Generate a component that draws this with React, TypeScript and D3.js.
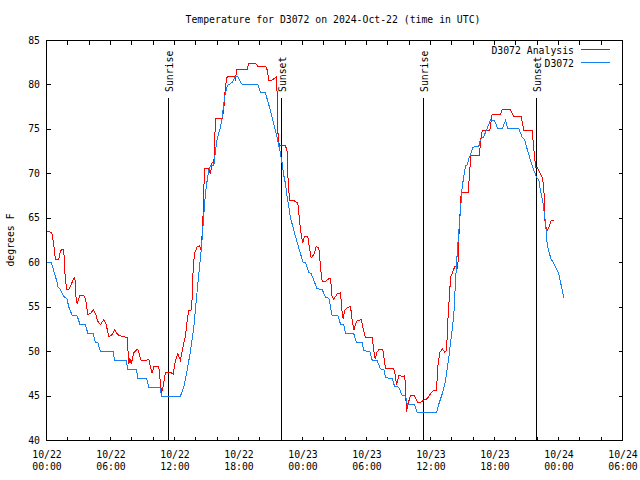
import React from "react";
import * as d3 from "d3";

const TITLE = "Temperature for D3072 on 2024-Oct-22 (time in UTC)";
const Y_LABEL = "degrees F";
const SERIES_NAMES = ["D3072 Analysis", "D3072"];
const SERIES_COLORS = ["#ff0000", "#1580f0"];

// hours since 10/22 00:00 UTC
const xTickDates = ["10/22", "10/22", "10/22", "10/22", "10/23", "10/23", "10/23", "10/23", "10/24", "10/24"];
const xTickTimes = ["00:00", "06:00", "12:00", "18:00", "00:00", "06:00", "12:00", "18:00", "00:00", "06:00"];
const xTickHours = [0, 6, 12, 18, 24, 30, 36, 42, 48, 54];
const yTicks = [40, 45, 50, 55, 60, 65, 70, 75, 80, 85];

const sunHours = [11.47, 22.05, 35.35, 45.95];
const sunLabels = ["Sunrise", "Sunset", "Sunrise", "Sunset"];

const analysisHours = [
  0, 0.5, 0.69, 0.84, 1.16, 1.31, 1.62, 1.69, 1.88, 2.09, 2.56, 2.66, 2.78, 2.88, 3.13, 3.5, 3.66, 3.88, 4.13, 4.38,
  4.59, 4.81, 5.06, 5.37, 5.59, 5.84, 6.09, 6.38, 6.69, 7.09, 7.56, 7.72, 7.81, 7.94, 8.19, 8.56, 8.87, 9.19, 9.6, 9.75,
  9.9, 10.06, 10.53, 10.69, 10.78, 10.94, 11.16, 11.56, 11.88, 12.09, 12.31, 12.56, 12.72, 13.03, 13.19, 13.34, 13.56,
  13.66, 13.75, 13.87, 14.13, 14.37, 14.44, 14.53, 14.6, 14.69, 14.75, 14.84, 15.22, 15.37, 15.53, 15.69, 15.75, 15.84,
  16.47, 16.62, 16.78, 16.94, 17.56, 17.72, 17.81, 18.81, 18.97, 19.59, 19.81, 20.53, 20.69, 20.84, 21.06, 21.56, 21.62,
  21.72, 21.87, 22.4, 22.56, 22.63, 22.78, 23.19, 23.44, 23.56, 23.66, 23.81, 23.97, 24.03, 24.19, 24.5, 24.69, 24.81,
  25.06, 25.28, 25.53, 25.69, 25.84, 26.16, 26.47, 26.63, 26.78, 26.94, 27.25, 27.56, 27.72, 27.81, 27.94, 28.19, 28.5,
  28.66, 28.81, 28.97, 29.13, 29.5, 29.69, 29.91, 30.53, 30.69, 30.81, 31.0, 31.16, 31.53, 31.63, 31.78, 32.56, 32.72,
  32.81, 33.03, 33.44, 33.59, 33.66, 33.75, 33.88, 34.13, 34.44, 34.6, 34.81, 35.06, 35.31, 35.69, 36.0, 36.25, 36.56,
  36.69, 36.88, 37.1, 37.35, 37.5, 37.56, 37.66, 37.81, 37.88, 38.03, 38.19, 38.28, 38.44, 38.56, 38.66, 38.75, 38.81,
  38.88, 39.53, 39.69, 39.75, 40.6, 40.69, 40.85, 41.56, 41.78, 42.56, 42.72, 43.5, 43.81, 44.5, 44.75, 45.53, 45.69,
  45.85, 46.0, 46.25, 46.47, 46.63, 46.69, 46.88, 47.1, 47.31, 47.56,
];
const analysisTemps = [
  63.6, 63.4, 61.9, 60.4, 60.4, 61.4, 61.5, 59.3, 57.0, 57.0, 58.2, 58.3, 55.9, 55.4, 56.3, 56.3, 55.9, 54.2, 54.3, 54.7,
  54.3, 53.4, 53.05, 53.6, 53.05, 51.7, 51.8, 52.45, 51.9, 51.7, 51.6, 48.6, 49.3, 48.6, 49.9, 50.3, 49.0, 49.0, 49.1, 48.25,
  47.6, 48.3, 48.3, 46.4, 45.4, 46.1, 47.7, 47.7, 47.5, 49.0, 49.75, 49.0, 50.1, 51.8, 53.5, 54.6, 54.7,
  56.1, 59.3, 61.0, 61.8, 61.9, 61.4, 62.0, 63.4, 65.7, 68.5, 70.55, 70.55, 70.0, 71.3, 71.3, 73.0, 76.2,
  76.2, 77.3, 79.9, 80.95, 81.0, 80.5, 81.7, 81.7, 82.45, 82.45, 82.1, 82.1, 81.7, 80.5, 80.5, 80.9, 79.0,
  73.75, 73.2, 73.2, 72.5, 69.8, 67.0, 67.0, 66.8, 66.8, 65.5, 63.8, 62.5, 62.3, 62.95, 62.95, 61.4, 60.55,
  60.9, 61.8, 61.7, 59.5, 57.9, 57.9, 58.2, 58.2, 56.1, 55.9, 56.5, 56.6, 54.4, 53.7, 54.6, 54.9, 55.1,
  53.5, 52.4, 53.1, 53.45, 53.6, 52.6, 51.55, 51.55, 50.1, 49.2, 50.0, 50.2, 50.2, 49.4, 48.06, 48.06, 47.3,
  46.2, 47.3, 47.2, 47.3, 45.7, 43.2, 44.1, 45.06, 45.1, 44.8, 44.3, 44.3, 44.5, 44.7, 45.25, 45.6, 45.6,
  48.4, 49.9, 50.3, 49.9, 50.2, 51.6, 54.25, 56.9, 58.4, 58.8, 59.3, 59.6, 59.6, 59.3, 62.9, 65.1, 66.6,
  67.9, 67.9, 70.4, 72.1, 72.1, 73.75, 74.9, 74.9, 76.7, 76.7, 77.2, 77.2, 76.45, 76.45, 74.9, 74.9, 72.8,
  70.75, 70.7, 70.1, 69.6, 68.5, 65.1, 63.55, 64.0, 64.75, 64.7,
];

const obsHours = [
  0, 0.45, 0.7, 0.95, 1.1, 1.3, 1.6, 1.9, 2.1, 2.4, 2.88, 3.13, 3.66, 3.88, 4.38, 4.59, 4.81, 5.06, 6.25, 6.38, 7.5, 7.6,
  8.44, 8.56, 9.38, 9.6, 10.63, 10.78, 12.56, 12.87, 13.19, 13.5, 13.81, 14.13, 14.44, 14.6, 14.75, 14.9, 15.06, 15.22,
  15.37, 15.69, 15.84, 16.0, 16.31, 16.47, 16.69, 16.94, 17.41, 17.72, 17.94, 18.19, 18.34, 19.81, 20.06, 20.53, 20.69,
  21.0, 21.31, 21.62, 21.94, 22.09, 22.25, 22.4, 22.56, 22.72, 22.87, 23.19, 23.5, 23.81, 24.06, 24.28, 24.59, 24.81,
  25.06, 25.37, 25.84, 26.16, 26.47, 26.78, 27.34, 27.56, 27.88, 28.03, 28.81, 29.06, 29.59, 29.75, 30.31, 30.53, 31.0,
  31.31, 31.63, 31.78, 32.41, 32.63, 33.03, 33.34, 33.66, 33.81, 34.5, 34.78, 36.56, 36.78, 37.1, 37.41, 37.72, 38.03,
  38.19, 38.35, 38.5, 38.66, 38.81, 38.97, 39.13, 39.28, 39.44, 39.6, 39.75, 40.0, 40.53, 40.69, 40.94, 41.25, 41.47,
  41.63, 42.0, 42.31, 42.72, 43.03, 43.25, 44.28, 44.6, 44.81, 45.06, 45.38, 45.69, 45.94, 46.16, 46.31, 46.56, 46.78,
  46.94, 47.1, 47.31, 47.56, 47.88, 48.03, 48.19, 48.35, 48.5,
];
const obsTemps = [
  60, 60, 59, 58, 57.2, 57, 56.2, 56, 55, 54.1, 54, 53.1, 53, 52, 52, 51, 51, 50, 50, 49, 49, 48,
  48, 47, 47, 46, 46, 45, 45, 46.0, 47.9, 50.1, 52.75, 56.9, 60.6, 62.9, 65.5, 67.75, 69.25, 70.4,
  70.9, 71.0, 72.6, 73.9, 75.25, 76.4, 78.6, 79.9, 80.3, 80.95, 80.95, 80.3, 80.1, 80.1, 79.2, 79.1, 78.4,
  77.1, 75.6, 74.1, 72.25, 71.2, 69.8, 68.9, 67.4, 66.25, 65.1, 63.6, 62.3, 61.0, 60.06, 60.0, 58.9, 58.8,
  58.0, 57.06, 57.0, 56.1, 56.0, 54.06, 54.0, 53.1, 53.0, 52.0, 52.0, 51.06, 51.0, 50.1, 50.0, 49.06, 49.0,
  48.06, 48.0, 47.05, 47.0, 46.1, 46.0, 45.06, 45.0, 44.1, 44.0, 43.1, 43.1, 44.1, 45.25, 46.75, 49.4, 52.4,
  54.25, 58.0, 61.0, 63.6, 65.9, 68.5, 69.8, 70.9, 71.0, 71.7, 72.2, 73.0, 73.1, 73.9, 74.1, 74.9, 75.6,
  76.06, 76.0, 75.06, 75.06, 76.0, 75.06, 75.06, 74.1, 73.9, 72.8, 71.5, 70.4, 69.6, 69.3, 68.1, 66.6, 64.55,
  62.1, 61.2, 60.4, 59.9, 59.1, 58.75, 57.8, 56.9, 56.05,
];

const W = 640;
const H = 480;
const FONT = "'DejaVu Sans Mono', monospace";
const FS = 9.8;

export default function App() {
  const x = d3.scaleLinear().domain([0, 54]).range([46, 622]);
  const y = d3.scaleLinear().domain([40, 85]).range([440, 40]);
  const minorTicks = d3.range(0, 55, 2);

  const line = d3
    .line<[number, number]>()
    .x((d) => x(d[0]) + 0.5)
    .y((d) => y(d[1]) + 0.5);

  const analysis = analysisHours.map((h, i) => [h, analysisTemps[i]] as [number, number]);
  const obs = obsHours.map((h, i) => [h, obsTemps[i]] as [number, number]);

  const px = (v: number) => Math.round(v) + 0.5;
  const left = px(x(0));
  const right = px(x(54));
  const top = px(y(85));
  const bottom = px(y(40));

  return (
    <svg
      width={W}
      height={H}
      style={{ position: "absolute", left: 0, top: 0, background: "#fff" }}
      fontFamily={FONT}
      fontSize={FS}
    >
      <rect x={0} y={0} width={W} height={H} fill="#fff" />
      <g stroke="#000" strokeWidth={1} shapeRendering="crispEdges">
        {yTicks.map((t) => (
          <g key={"y" + t}>
            <line x1={left} x2={left + 4} y1={px(y(t))} y2={px(y(t))} />
            <line x1={right - 4} x2={right} y1={px(y(t))} y2={px(y(t))} />
          </g>
        ))}
        {minorTicks.map((t) => (
          <g key={"x" + t}>
            <line x1={px(x(t))} x2={px(x(t))} y1={bottom} y2={bottom - 4} />
            <line x1={px(x(t))} x2={px(x(t))} y1={top} y2={top + 4} />
          </g>
        ))}
        {sunHours.map((h, i) => (
          <line key={"s" + i} x1={px(x(h))} x2={px(x(h))} y1={98} y2={bottom} />
        ))}
        <rect x={left} y={top} width={right - left} height={bottom - top} fill="none" />
      </g>
      {sunHours.map((h, i) => (
        <text key={"sl" + i} transform={`translate(${x(h) + 4.8},92) rotate(-90)`} textAnchor="start" fill="#000">
          {sunLabels[i]}
        </text>
      ))}
      {yTicks.map((t) => (
        <text key={"yl" + t} x={40} y={y(t) + 3.5} textAnchor="end" fill="#000">
          {t}
        </text>
      ))}
      {xTickHours.map((h, i) => (
        <g key={"xl" + h}>
          <text x={x(h) + 1} y={458} textAnchor="middle" fill="#000">
            {xTickDates[i]}
          </text>
          <text x={x(h) + 1} y={469.5} textAnchor="middle" fill="#000">
            {xTickTimes[i]}
          </text>
        </g>
      ))}
      <text x={333} y={23} textAnchor="middle" fill="#000">
        {TITLE}
      </text>
      <text transform="translate(14,240) rotate(-90)" textAnchor="middle" fill="#000">
        {Y_LABEL}
      </text>
      <path
        d={line(analysis) || ""}
        fill="none"
        stroke={SERIES_COLORS[0]}
        strokeWidth={1}
        shapeRendering="crispEdges"
      />
      <path d={line(obs) || ""} fill="none" stroke={SERIES_COLORS[1]} strokeWidth={1} shapeRendering="crispEdges" />
      {SERIES_NAMES.map((name, i) => (
        <g key={"lg" + i}>
          <text x={574} y={54 + i * 13} textAnchor="end" fill="#000">
            {name}
          </text>
          <line
            x1={581}
            x2={610}
            y1={49.5 + i * 13}
            y2={49.5 + i * 13}
            stroke={SERIES_COLORS[i]}
            strokeWidth={1}
            shapeRendering="crispEdges"
          />
        </g>
      ))}
    </svg>
  );
}
